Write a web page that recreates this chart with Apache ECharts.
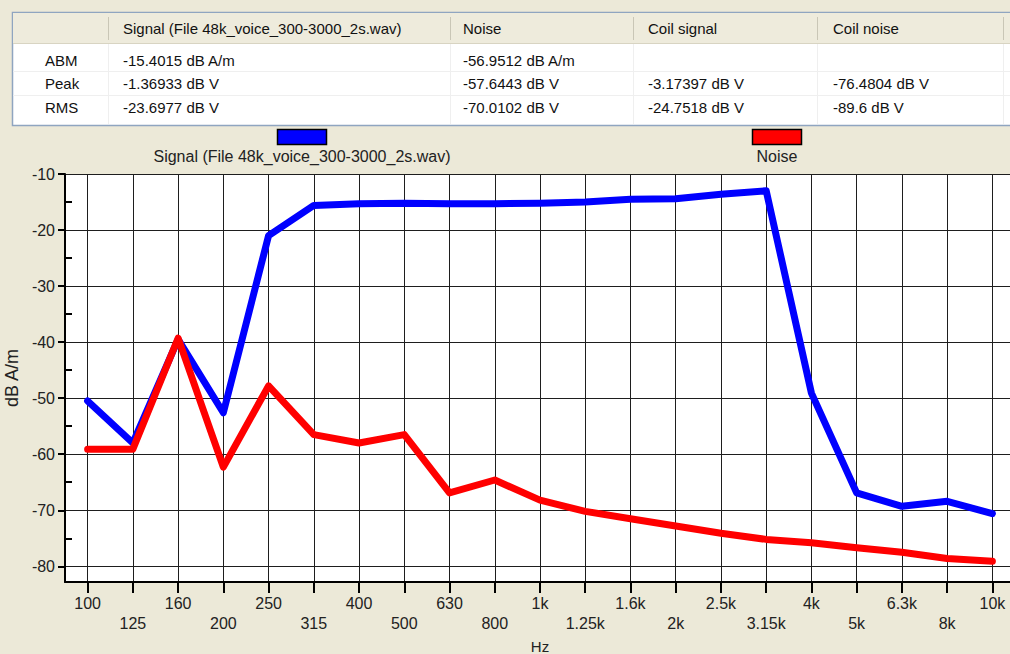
<!DOCTYPE html>
<html><head><meta charset="utf-8">
<script src="https://cdn.jsdelivr.net/npm/echarts@6/dist/echarts.min.js"></script>
<style>html,body{margin:0;padding:0;background:#ECE9D8;} #c{width:1010px;height:654px;}</style>
</head><body><div id="c"></div>
<script>
const frequencies = ['100','125','160','200','250','315','400','500','630','800','1k','1.25k','1.6k','2k','2.5k','3.15k','4k','5k','6.3k','8k','10k'];
const signalValues = [-50.5,-58.0,-39.5,-52.6,-21.0,-15.6,-15.3,-15.2,-15.3,-15.3,-15.2,-15.0,-14.5,-14.4,-13.6,-13.0,-49.1,-66.9,-69.3,-68.4,-70.6];
const noiseValues = [-59.1,-59.1,-39.3,-62.3,-47.8,-56.5,-58.0,-56.5,-66.9,-64.6,-68.2,-70.2,-71.5,-72.8,-74.1,-75.2,-75.8,-76.7,-77.5,-78.6,-79.1];
const yTickValues = [-80,-70,-60,-50,-40,-30,-20,-10];
const yMinorTickValues = [-75,-65,-55,-45,-35,-25,-15];
const seriesNames = ['Signal (File 48k_voice_300-3000_2s.wav)','Noise'];
const seriesColors = ['#0000FF','#FF0000'];
const tableHeaders = ['Signal (File 48k_voice_300-3000_2s.wav)','Noise','Coil signal','Coil noise'];
const tableRowLabels = ['ABM','Peak','RMS'];
const tableSignal = ['-15.4015 dB A/m','-1.36933 dB V','-23.6977 dB V'];
const tableNoise = ['-56.9512 dB A/m','-57.6443 dB V','-70.0102 dB V'];
const tableCoilSignal = ['','-3.17397 dB V','-24.7518 dB V'];
const tableCoilNoise = ['','-76.4804 dB V','-89.6 dB V'];

const FONT = '"Liberation Sans", Arial, sans-serif';
const freqIdx = frequencies.map((f,i)=>i);

// ---- table (graphic) ----
const colText = [123, 463, 648, 833];
const colSep = [108, 450, 633, 817, 1003];
const rowY = [60, 83, 107];
const tableCols = [tableSignal, tableNoise, tableCoilSignal, tableCoilNoise];
const graphics = [];
graphics.push({type:'rect', shape:{x:12.5,y:12.5,width:1010,height:113}, style:{fill:'#fff', stroke:'#8FA5C0', lineWidth:1.5}, silent:true});
graphics.push({type:'rect', shape:{x:13,y:13,width:1010,height:30}, style:{fill:'#EEEBDC'}, silent:true});
graphics.push({type:'line', shape:{x1:13,y1:43.5,x2:1010,y2:43.5}, style:{stroke:'#D8D4C2', lineWidth:1}, silent:true});
colSep.forEach(x=>{
  graphics.push({type:'line', shape:{x1:x+0.5,y1:17,x2:x+0.5,y2:40}, style:{stroke:'#C9C6B6', lineWidth:1}, silent:true});
  graphics.push({type:'line', shape:{x1:x+0.5,y1:44,x2:x+0.5,y2:124}, style:{stroke:'#EFEFEF', lineWidth:1}, silent:true});
});
[71.5, 95.5].forEach(y=>graphics.push({type:'line', shape:{x1:13,y1:y,x2:1010,y2:y}, style:{stroke:'#EFEFEF', lineWidth:1}, silent:true}));
tableHeaders.forEach((h,i)=>graphics.push({type:'text', x:colText[i], y:28, style:{text:h, font:'15px '+FONT, fill:'#111', verticalAlign:'middle'}, silent:true}));
tableRowLabels.forEach((r,j)=>{
  graphics.push({type:'text', x:45, y:rowY[j], style:{text:r, font:'15px '+FONT, fill:'#111', verticalAlign:'middle'}, silent:true});
  tableCols.forEach((col,i)=>{
    if (col[j]) graphics.push({type:'text', x:colText[i], y:rowY[j], style:{text:col[j], font:'15px '+FONT, fill:'#111', verticalAlign:'middle'}, silent:true});
  });
});
// ---- legend (graphic) ----
const legendCenters = [302, 777];
seriesNames.forEach((n,i)=>{
  graphics.push({type:'rect', shape:{x:legendCenters[i]-24.5,y:129.5,width:49,height:15}, style:{fill:seriesColors[i], stroke:'#000', lineWidth:1.5}, silent:true});
  graphics.push({type:'text', x:legendCenters[i], y:156, style:{text:n, font:'16px '+FONT, fill:'#222', align:'center', verticalAlign:'middle'}, silent:true});
});

const chart = echarts.init(document.getElementById('c'), null, {renderer:'svg'});
chart.setOption({
  animation:false,
  backgroundColor:'#ECE9D8',
  grid:{left:65, top:174, width:950, height:408, backgroundColor:'#fff', show:true, borderWidth:0, containLabel:false, outerBoundsMode:'none'},
  xAxis:{
    type:'value', min:-0.5, max:20.5,
    name:'Hz', nameLocation:'middle', nameGap:57,
    nameTextStyle:{fontFamily:FONT, fontSize:15, color:'#222'},
    axisLine:{onZero:false, lineStyle:{color:'#000', width:2}},
    axisTick:{customValues:freqIdx, length:11, lineStyle:{color:'#000', width:2}},
    axisLabel:{customValues:freqIdx, margin:11, lineHeight:20, fontFamily:FONT, fontSize:16, color:'#222',
      formatter:(v)=>{const i=Math.round(v); return (i%2? '\n':'')+frequencies[i];}},
    splitLine:{show:true, lineStyle:{color:'#1e1e1e', width:1}}
  },
  yAxis:[{
    type:'value', min:-82.8, max:-10,
    name:'dB A/m', nameLocation:'middle', nameGap:40, nameRotate:90,
    nameTextStyle:{fontFamily:FONT, fontSize:18, color:'#222'},
    axisLine:{show:true, onZero:false, lineStyle:{color:'#000', width:2}},
    axisTick:{customValues:yTickValues, length:7, lineStyle:{color:'#000', width:2}},
    axisLabel:{customValues:yTickValues, margin:10, fontFamily:FONT, fontSize:16, color:'#222'},
    splitLine:{show:true, lineStyle:{color:'#1e1e1e', width:1}}
  },{
    type:'value', min:-82.8, max:-10, position:'left',
    axisLine:{show:false, onZero:false},
    axisTick:{show:true, inside:true, customValues:yMinorTickValues, length:7, lineStyle:{color:'#000', width:2}},
    axisLabel:{show:false},
    splitLine:{show:false}
  }],
  graphic: graphics,
  series:[
    {name:seriesNames[0], type:'line', data:signalValues.map((v,i)=>[i,v]), symbol:'none',
     lineStyle:{color:seriesColors[0], width:7, join:'round', cap:'round'}, z:2},
    {name:seriesNames[1], type:'line', data:noiseValues.map((v,i)=>[i,v]), symbol:'none',
     lineStyle:{color:seriesColors[1], width:7, join:'round', cap:'round'}, z:3}
  ]
});
</script></body></html>
